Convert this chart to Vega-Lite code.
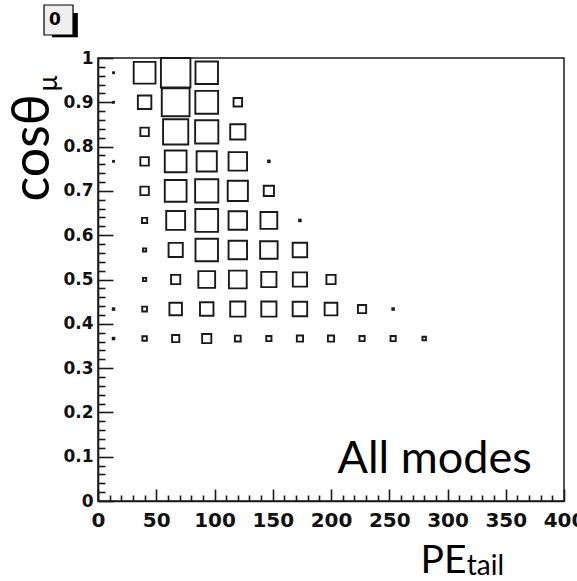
{
  "$schema": "https://vega.github.io/schema/vega-lite/v6.json",
  "autosize": "none",
  "padding": {"left": 98, "top": 58, "right": 13, "bottom": 80},
  "width": 466,
  "height": 443,
  "background": "white",
  "config": {"view": {"stroke": "#1a1a1a", "strokeWidth": 1.5}},
  "resolve": {"axis": {"x": "independent", "y": "independent"}},
  "layer": [
    {
      "data": {
        "values": [
          {"pe": 13.33, "cos": 0.9667, "n": 1},
          {"pe": 40, "cos": 0.9667, "n": 546},
          {"pe": 66.67, "cos": 0.9667, "n": 1000},
          {"pe": 93.33, "cos": 0.9667, "n": 582},
          {"pe": 13.33, "cos": 0.9, "n": 1},
          {"pe": 40, "cos": 0.9, "n": 209},
          {"pe": 66.67, "cos": 0.9, "n": 888},
          {"pe": 93.33, "cos": 0.9, "n": 597},
          {"pe": 120, "cos": 0.9, "n": 83},
          {"pe": 40, "cos": 0.8333, "n": 83},
          {"pe": 66.67, "cos": 0.8333, "n": 730},
          {"pe": 93.33, "cos": 0.8333, "n": 618},
          {"pe": 120, "cos": 0.8333, "n": 265},
          {"pe": 13.33, "cos": 0.7667, "n": 1},
          {"pe": 40, "cos": 0.7667, "n": 83},
          {"pe": 66.67, "cos": 0.7667, "n": 546},
          {"pe": 93.33, "cos": 0.7667, "n": 469},
          {"pe": 120, "cos": 0.7667, "n": 393},
          {"pe": 146.67, "cos": 0.7667, "n": 3},
          {"pe": 40, "cos": 0.7, "n": 83},
          {"pe": 66.67, "cos": 0.7, "n": 546},
          {"pe": 93.33, "cos": 0.7, "n": 618},
          {"pe": 120, "cos": 0.7, "n": 469},
          {"pe": 146.67, "cos": 0.7, "n": 120},
          {"pe": 40, "cos": 0.6333, "n": 31},
          {"pe": 66.67, "cos": 0.6333, "n": 410},
          {"pe": 93.33, "cos": 0.6333, "n": 597},
          {"pe": 120, "cos": 0.6333, "n": 393},
          {"pe": 146.67, "cos": 0.6333, "n": 324},
          {"pe": 173.33, "cos": 0.6333, "n": 3},
          {"pe": 40, "cos": 0.5667, "n": 12},
          {"pe": 66.67, "cos": 0.5667, "n": 232},
          {"pe": 93.33, "cos": 0.5667, "n": 582},
          {"pe": 120, "cos": 0.5667, "n": 393},
          {"pe": 146.67, "cos": 0.5667, "n": 352},
          {"pe": 173.33, "cos": 0.5667, "n": 242},
          {"pe": 40, "cos": 0.5, "n": 12},
          {"pe": 66.67, "cos": 0.5, "n": 97},
          {"pe": 93.33, "cos": 0.5, "n": 324},
          {"pe": 120, "cos": 0.5, "n": 364},
          {"pe": 146.67, "cos": 0.5, "n": 265},
          {"pe": 173.33, "cos": 0.5, "n": 232},
          {"pe": 200, "cos": 0.5, "n": 97},
          {"pe": 13.33, "cos": 0.4333, "n": 3},
          {"pe": 40, "cos": 0.4333, "n": 26},
          {"pe": 66.67, "cos": 0.4333, "n": 180},
          {"pe": 93.33, "cos": 0.4333, "n": 209},
          {"pe": 120, "cos": 0.4333, "n": 265},
          {"pe": 146.67, "cos": 0.4333, "n": 265},
          {"pe": 173.33, "cos": 0.4333, "n": 242},
          {"pe": 200, "cos": 0.4333, "n": 185},
          {"pe": 226.67, "cos": 0.4333, "n": 77},
          {"pe": 253.33, "cos": 0.4333, "n": 3},
          {"pe": 13.33, "cos": 0.3667, "n": 3},
          {"pe": 40, "cos": 0.3667, "n": 23},
          {"pe": 66.67, "cos": 0.3667, "n": 60},
          {"pe": 93.33, "cos": 0.3667, "n": 97},
          {"pe": 120, "cos": 0.3667, "n": 39},
          {"pe": 146.67, "cos": 0.3667, "n": 31},
          {"pe": 173.33, "cos": 0.3667, "n": 44},
          {"pe": 200, "cos": 0.3667, "n": 44},
          {"pe": 226.67, "cos": 0.3667, "n": 31},
          {"pe": 253.33, "cos": 0.3667, "n": 31},
          {"pe": 280, "cos": 0.3667, "n": 14}
        ]
      },
      "mark": {"type": "point", "shape": "square", "filled": false, "stroke": "#1a1a1a", "strokeWidth": 1.9, "opacity": 1, "clip": false},
      "encoding": {
        "x": {
          "field": "pe",
          "type": "quantitative",
          "scale": {"domain": [0, 400], "nice": false, "zero": false},
          "axis": {
            "orient": "bottom",
            "values": [0, 10, 20, 30, 40, 50, 60, 70, 80, 90, 100, 110, 120, 130, 140, 150, 160, 170, 180, 190, 200, 210, 220, 230, 240, 250, 260, 270, 280, 290, 300, 310, 320, 330, 340, 350, 360, 370, 380, 390, 400],
            "tickSize": {"condition": {"test": "datum.value % 50 === 0", "value": -12}, "value": -6},
            "labelExpr": "datum.value % 50 === 0 ? format(datum.value, 'd') : ''",
            "grid": false,
            "tickColor": "#1a1a1a",
            "tickWidth": 1.6,
            "domainColor": "#1a1a1a",
            "domainWidth": 1.6,
            "labelFont": "DejaVu Sans",
            "labelFontWeight": "bold",
            "labelFontSize": 20,
            "labelColor": "#111111",
            "labelPadding": 21,
            "labelBaseline": "top",
            "labelAlign": "center",
            "labelFlush": false,
            "labelOverlap": false,
            "title": "PE",
            "titleFont": "Lato",
            "titleFontSize": 39,
            "titleFontWeight": "normal",
            "titleColor": "black",
            "titleAlign": "left",
            "titleBaseline": "alphabetic",
            "titleX": 322,
            "titleY": 71
          }
        },
        "y": {
          "field": "cos",
          "type": "quantitative",
          "scale": {"domain": [0, 1], "nice": false},
          "axis": {
            "orient": "left",
            "values": [0, 0.02, 0.04, 0.06, 0.08, 0.1, 0.12, 0.14, 0.16, 0.18, 0.2, 0.22, 0.24, 0.26, 0.28, 0.3, 0.32, 0.34, 0.36, 0.38, 0.4, 0.42, 0.44, 0.46, 0.48, 0.5, 0.52, 0.54, 0.56, 0.58, 0.6, 0.62, 0.64, 0.66, 0.68, 0.7, 0.72, 0.74, 0.76, 0.78, 0.8, 0.82, 0.84, 0.86, 0.88, 0.9, 0.92, 0.94, 0.96, 0.98, 1],
            "tickSize": {"condition": {"test": "abs(datum.value * 10 - round(datum.value * 10)) < 0.001", "value": -15}, "value": -7},
            "labelExpr": "abs(datum.value * 10 - round(datum.value * 10)) < 0.001 ? format(datum.value, '~g') : ''",
            "grid": false,
            "tickColor": "#1a1a1a",
            "tickWidth": 1.6,
            "domainColor": "#1a1a1a",
            "domainWidth": 1.6,
            "labelFont": "DejaVu Sans",
            "labelFontWeight": "bold",
            "labelFontSize": 17,
            "labelColor": "#111111",
            "labelPadding": 20,
            "labelBaseline": "middle",
            "labelAlign": "right",
            "labelFlush": false,
            "labelOverlap": false,
            "title": "cosθ",
            "titleFont": "Lato",
            "titleFontSize": 52,
            "titleFontWeight": "normal",
            "titleColor": "black",
            "titleAngle": 270,
            "titleAlign": "left",
            "titleBaseline": "alphabetic",
            "titleX": -50,
            "titleY": 143
          }
        },
        "size": {
          "field": "n",
          "type": "quantitative",
          "scale": {"domain": [0, 1000], "range": [0, 870], "zero": true},
          "legend": null
        }
      }
    },
    {
      "data": {"values": [{"label": "All modes"}]},
      "mark": {"type": "text", "font": "Lato", "fontSize": 45, "align": "right", "baseline": "alphabetic", "color": "black", "clip": false},
      "encoding": {
        "x": {"datum": 372.3, "type": "quantitative", "axis": null},
        "y": {"datum": 0.0632, "type": "quantitative", "axis": null},
        "text": {"field": "label"}
      }
    },
    {
      "data": {"values": [{"label": "tail"}]},
      "mark": {"type": "text", "font": "Lato", "fontSize": 28, "align": "left", "baseline": "alphabetic", "color": "black", "clip": false},
      "encoding": {
        "x": {"datum": 316.5, "type": "quantitative", "axis": null},
        "y": {"datum": -0.168, "type": "quantitative", "axis": null},
        "text": {"field": "label"}
      }
    },
    {
      "data": {"values": [{"label": "μ"}]},
      "mark": {"type": "text", "font": "Lato", "fontSize": 26, "angle": 270, "align": "left", "baseline": "alphabetic", "color": "black", "clip": false},
      "encoding": {
        "x": {"datum": -35.2, "type": "quantitative", "axis": null},
        "y": {"datum": 0.925, "type": "quantitative", "axis": null},
        "text": {"field": "label"}
      }
    },
    {
      "data": {"values": [{"part": "shadow"}]},
      "mark": {"type": "rect", "fill": "black", "clip": false},
      "encoding": {
        "x": {"datum": -39.5, "type": "quantitative", "axis": null},
        "x2": {"datum": -17.3},
        "y": {"datum": 1.1016, "type": "quantitative", "axis": null},
        "y2": {"datum": 1.0467}
      }
    },
    {
      "data": {"values": [{"part": "box"}]},
      "mark": {"type": "rect", "fill": "#efefef", "stroke": "black", "strokeWidth": 1.2, "clip": false},
      "encoding": {
        "x": {"datum": -46.32, "type": "quantitative", "axis": null},
        "x2": {"datum": -21.45},
        "y": {"datum": 1.1196, "type": "quantitative", "axis": null},
        "y2": {"datum": 1.0519}
      }
    },
    {
      "data": {"values": [{"label": "0"}]},
      "mark": {"type": "text", "font": "DejaVu Sans", "fontWeight": "bold", "fontSize": 17, "align": "center", "baseline": "middle", "color": "black", "clip": false},
      "encoding": {
        "x": {"datum": -36.89, "type": "quantitative", "axis": null},
        "y": {"datum": 1.0858, "type": "quantitative", "axis": null},
        "text": {"field": "label"}
      }
    }
  ]
}
